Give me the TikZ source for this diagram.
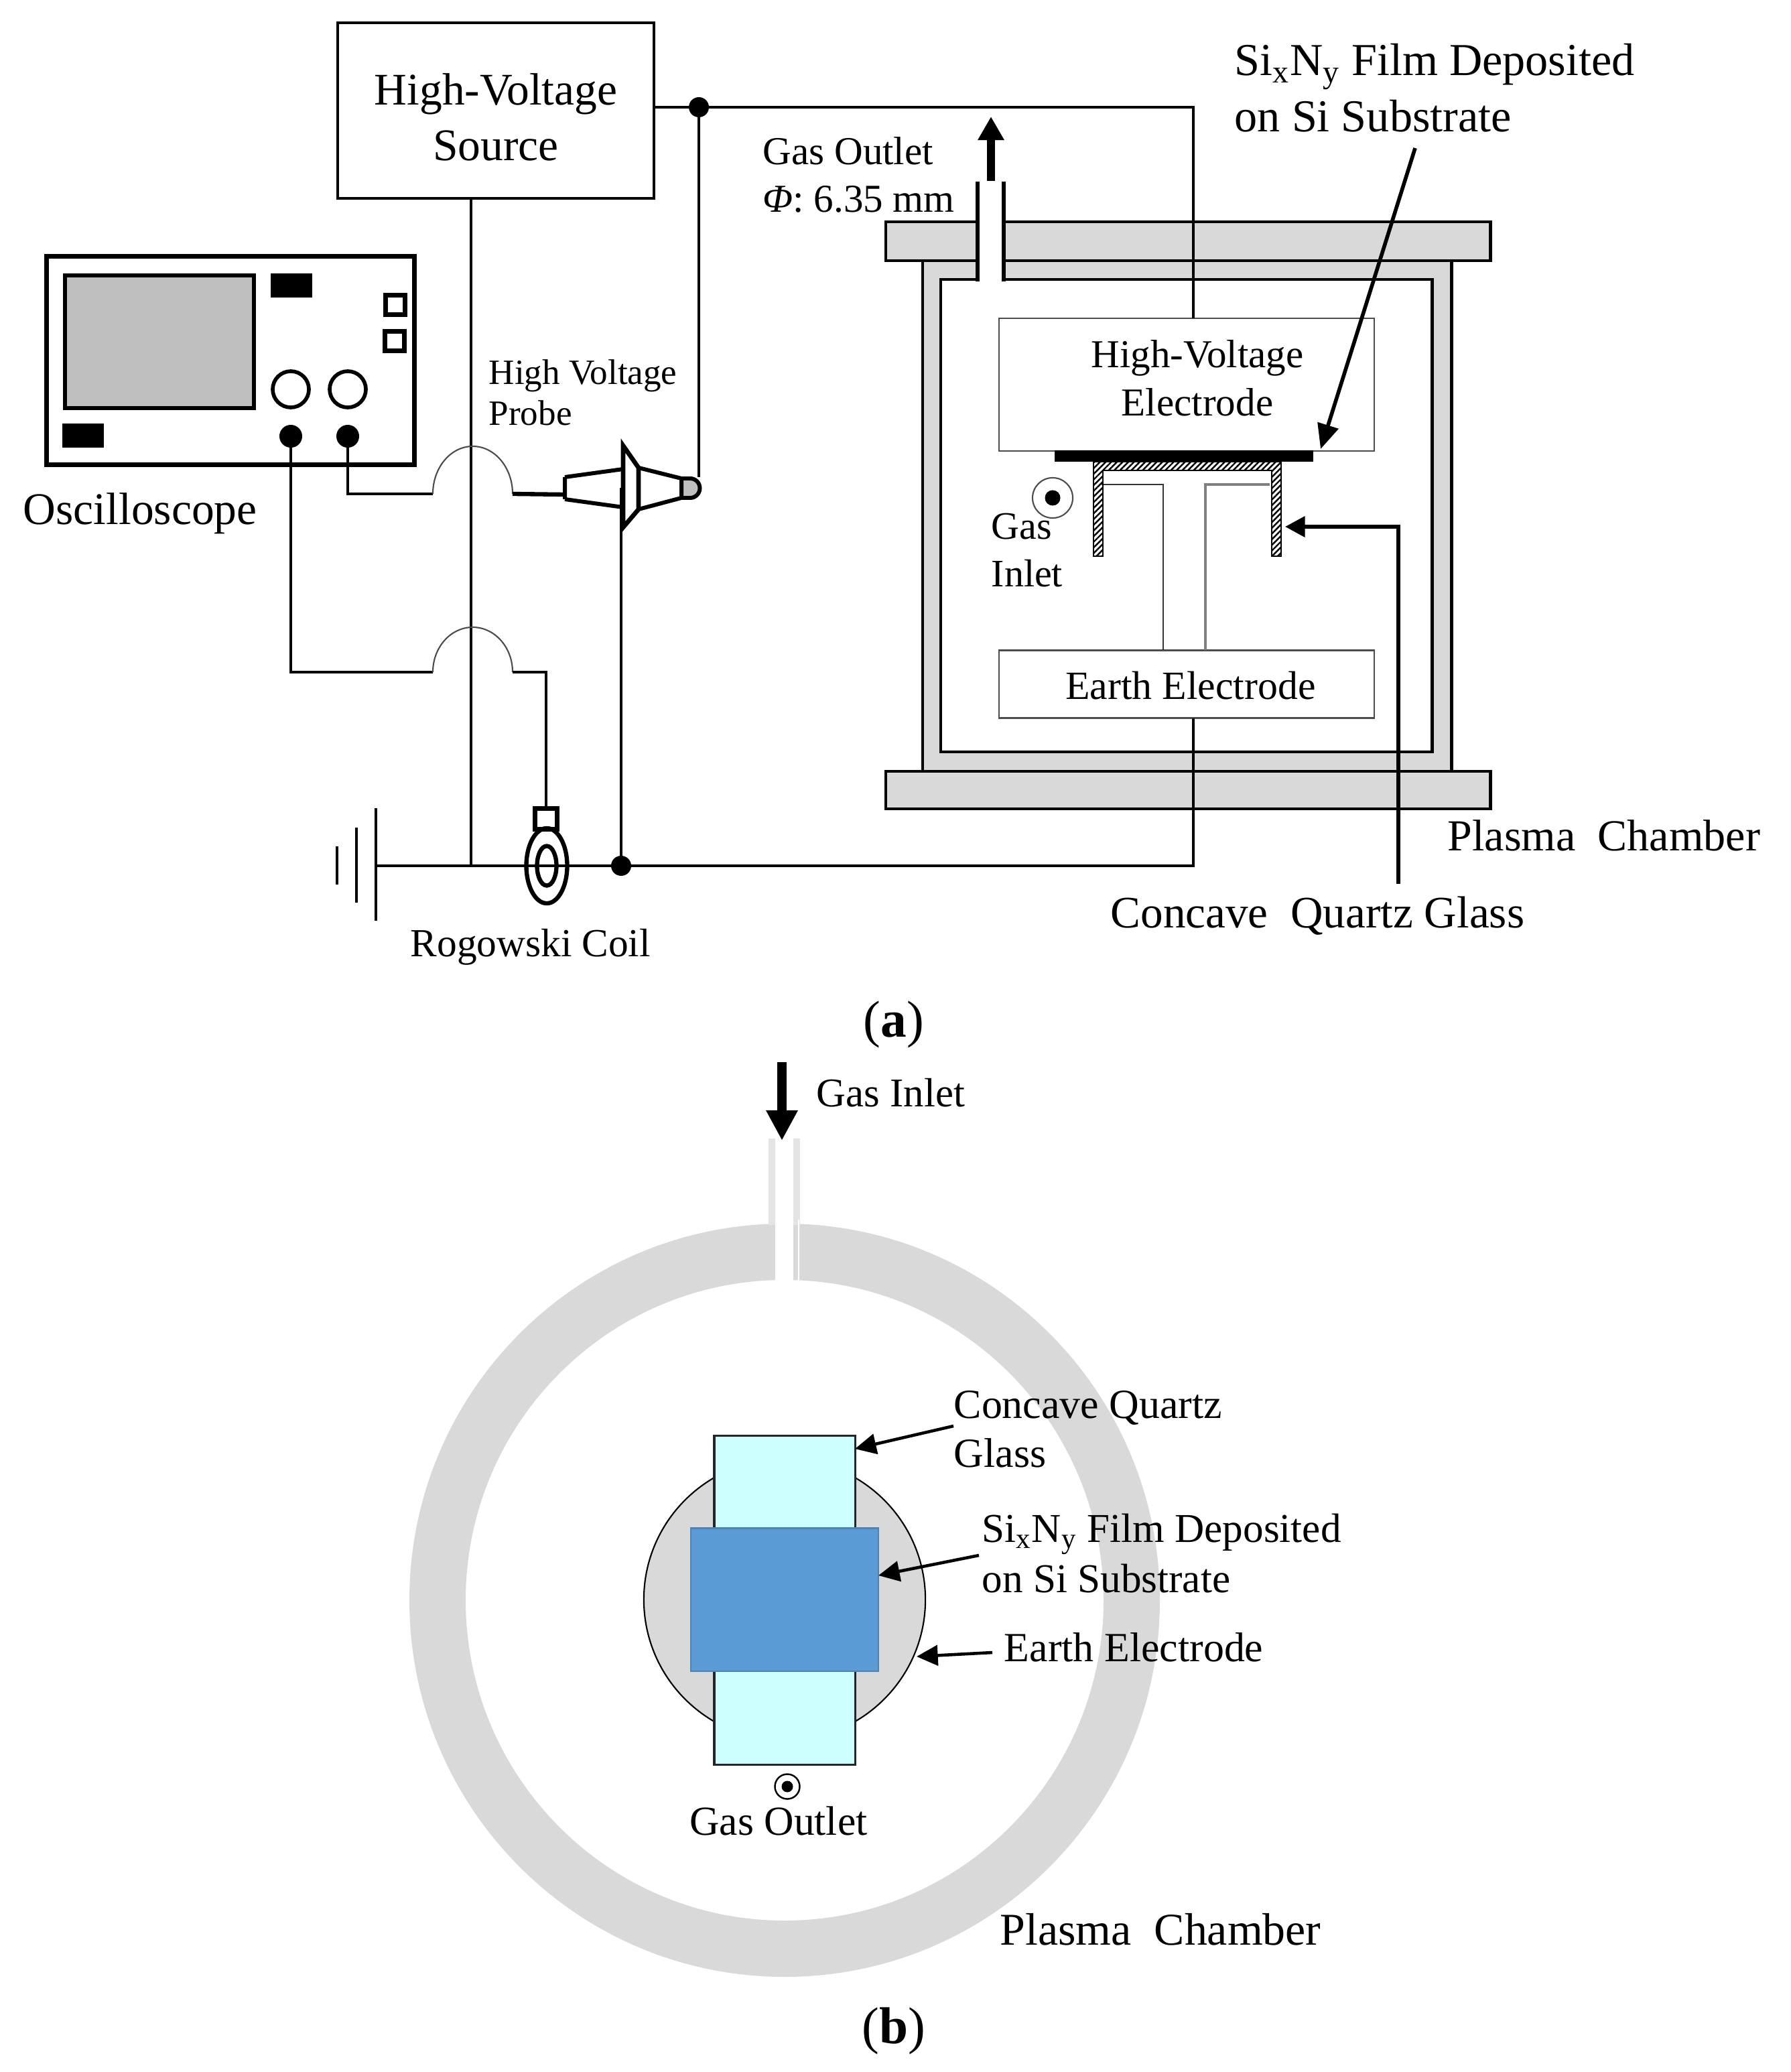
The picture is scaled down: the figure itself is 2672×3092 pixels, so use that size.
\documentclass[tikz,border=0pt]{standalone}
\usepackage{fontspec}
\setmainfont{Liberation Serif}
\usepackage{xcolor}
\usetikzlibrary{arrows.meta,patterns.meta,shapes.geometric,calc}
\definecolor{wallgray} {RGB} {217, 217, 217}
\definecolor{screengray} {RGB} {191, 191, 191}
\definecolor{quartz} {RGB} {204, 255, 255}
\definecolor{filmblue} {RGB} {91, 155, 213}
\definecolor{postgray} {RGB} {128, 128, 128}
\tikzstyle{rig}=[
  x=0.01cm, y=-0.01cm, >={Triangle[length=10.5pt,width=9pt]}
]
\tikzstyle{wire}=[
  line width=1.35pt
]
\tikzstyle{hop}=[
  line width=0.6pt, draw=black!70
]
\tikzstyle{pointer}=[
  line width=1.6pt, ->
]
\tikzstyle{pointersm}=[
  line width=1.3pt, -{Triangle[length=9pt,width=8.6pt]}
]
\tikzstyle{wirebox}=[
  draw, line width=1.3pt, inner sep=0pt, outer sep=0pt
]
\tikzstyle{thinbox}=[
  draw=black!70, line width=0.7pt, inner sep=0pt, outer sep=0pt
]
\tikzstyle{plate}=[
  draw, line width=1.4pt, fill=wallgray
]
\tikzstyle{dot}=[
  circle, fill=black, inner sep=0pt, outer sep=0pt, minimum size=3mm
]
\tikzstyle{knob}=[
  circle, draw, line width=1.6pt, inner sep=0pt, minimum size=5.4mm
]
\tikzstyle{sqbtn}=[
  draw, line width=1.8pt, inner sep=0pt, minimum size=2.9mm
]
\tikzstyle{blk}=[
  fill=black, inner sep=0pt, minimum width=6.2mm, minimum height=3.6mm
]
\tikzstyle{ring}=[
  ellipse, draw, inner sep=0pt, outer sep=0pt
]
\tikzstyle{lbl}=[
  inner sep=0pt, align=left, anchor=west
]
\newcommand{\lblbig}{\fontsize{18.8}{23.6}\selectfont}
\newcommand{\lblmid}{\fontsize{17.5}{21}\selectfont}
\newcommand{\lblpart}{\fontsize{22}{26}\selectfont}
\begin{document}
\begin{tikzpicture}[rig]
    \useasboundingbox (0,0) rectangle (2672,3092);
    \fill [white] (0,0) rectangle (2672,3092);

    % chamber body
    \draw [line width=1.4pt, fill=wallgray] (1377,389) rectangle (2166,1151);
    \draw [line width=1.4pt, fill=white] (1404,417) rectangle (2137,1122);
    \draw [plate] (1322,331) rectangle (2224,389);
    \draw [plate] (1322,1151) rectangle (2224,1207);
    \fill [white] (1459,325) rectangle (1498,420);
    \draw [wire, line width=1.5pt] (1459,271) -- (1459,420);
    \draw [wire, line width=1.5pt] (1498,271) -- (1498,420);
    \coordinate (outletbase) at (1479,270);
    \coordinate (outlettip) at (1479,174);
    \draw [line width=3.4pt, -{Triangle[length=10pt,width=10.6pt]}] (outletbase) -- (outlettip);

    % boxes
    \node (source) [wirebox, minimum width=47.2mm, minimum height=26.2mm] at (740,165) {};
    \node (sourcetext) [align=center, inner sep=0pt, font=\fontsize{19.2}{23.6}\selectfont] at (740,175) {High-Voltage\\Source};
    \node (hvelec) [thinbox, minimum width=56mm, minimum height=19.8mm] at (1771,574) {};
    \node (hvtext) [align=center, inner sep=0pt, font=\fontsize{16.8}{20.4}\selectfont] at (1787,564) {High-Voltage\\Electrode};
    \node (earth) [thinbox, minimum width=56mm, minimum height=10.1mm, fill=white] at (1771,1021) {};
    \node (earthtext) [inner sep=0pt, font=\fontsize{17}{21}\selectfont] at (1777,1023) {Earth Electrode};

    % post and quartz
    \coordinate (postL) at (1736,723);
    \coordinate (postR) at (1799,723);
    \draw [line width=0.7pt, draw=black!80] (1644,723) -- (postL) -- (postL |- earth.north);
    \draw [line width=1.1pt, draw=postgray] (1895,723) -- (postR) -- (postR |- earth.north);
    \fill [black] (1574,672) rectangle (1960,689);
    \draw [line width=0.7pt, pattern={Lines[angle=45,distance=1.7pt,line width=0.7pt]}]
        (1632,830) -- (1632,689) -- (1912,689) -- (1912,830) -- (1898,830) -- (1898,702) -- (1646,702) -- (1646,830) -- cycle;
    \node (inflow) [circle, draw=black!70, line width=0.6pt, minimum size=6mm, inner sep=0pt] at (1571,743) {};
    \node (inflowdot) [dot, minimum size=2.3mm] at (inflow) {};

    % scope
    \node (scope) [wirebox, line width=2pt, minimum width=54.8mm, minimum height=31mm] at (344,538) {};
    \node (screen) [draw, line width=1.7pt, fill=screengray, inner sep=0pt, minimum width=28.2mm, minimum height=19.8mm] at (238,510) {};
    \node (blka) [blk] at (435,426) {};
    \node (blkb) [blk] at (124,650) {};
    \node (btna) [sqbtn] at (590,455) {};
    \node (btnb) [sqbtn] at (589,509) {};
    \node (knoba) [knob] at (434,581) {};
    \node (knobb) [knob] at (519,581) {};
    \node (jacka) [dot, minimum size=3.4mm] at (434,651) {};
    \node (jackb) [dot, minimum size=3.4mm] at (519,651) {};

    % coil and junctions
    \node (coilout) [ring, line width=1.8pt, minimum width=6.1mm, minimum height=11.2mm] at (816,1292) {};
    \node (coilin) [ring, line width=1.8pt, minimum width=2.9mm, minimum height=5.9mm] at (816,1292) {};
    \node (coilcap) [draw, line width=1.8pt, inner sep=0pt, minimum width=3.3mm, minimum height=3.1mm] at (815,1222) {};
    \node (topdot) [dot] at (1043,160) {};
    \node (gnddot) [dot] at (927,1292) {};
    \coordinate (gnd) at (561,1292);
    \coordinate (hvdrop) at (1781,160);
    \coordinate (srcdrop) at (703,1292);
    \coordinate (earthdrop) at (1781,1292);

    % wiring
    \draw [wire] (source.east |- topdot) -- (topdot.center) -- (hvdrop) -- (hvdrop |- hvelec.north);
    \draw [wire] (source.south -| srcdrop) -- (srcdrop);
    \draw [wire] (gnd) -- (earthdrop) -- (earthdrop |- earth.south);
    \draw [line width=1.3pt] (561,1206) -- (561,1374);
    \draw [line width=1.3pt] (532,1235) -- (532,1347);
    \draw [line width=1.1pt] (503,1263) -- (503,1320);

    % probe
    \coordinate (probeL) at (843,738);
    \coordinate (probeR) at (1043,712);
    \coordinate (probeG) at (927,728);
    \draw [line width=1.7pt] (843,712) -- (930,700) (843,745) -- (930,757) (843,712) -- (843,745);
    \draw [line width=1.9pt, line join=miter] (930,787) -- (930,665) -- (953,698) -- (953,760) -- cycle;
    \draw [line width=1.7pt] (953,698) -- (1017,714) (953,760) -- (1017,743);
    \draw [line width=1.7pt, fill=screengray] (1017,714) -- (1030,714) arc [start angle=270, end angle=450, x radius=14.5, y radius=14.5] -- (1017,743) -- cycle;
    \draw [wire] (topdot.center) -- (probeR);
    \draw [wire] (probeG) -- (gnddot.center);

    % scope leads with hops over the source line
    \coordinate (hopa) at (646,737);
    \coordinate (hopb) at (646,1003);
    \draw [wire] (jackb.center) |- (hopa);
    \draw [hop] (hopa) arc [start angle=180, end angle=360, x radius=59.5, y radius=71] coordinate (hopaend);
    \draw [line width=1.8pt] (hopaend) -- (probeL);
    \draw [wire] (jacka.center) |- (hopb);
    \draw [hop] (hopb) arc [start angle=180, end angle=360, x radius=59.5, y radius=67] coordinate (hopbend);
    \draw [wire] (hopbend) -| (coilcap.north);

    % pointers, top picture
    \coordinate (filmtail) at (2112,221);
    \coordinate (filmtip) at (1971,670);
    \draw [pointer] (filmtail) -- (filmtip);
    \coordinate (quartztail) at (2087,1319);
    \coordinate (quartztip) at (1918,786);
    \draw [pointer, -{Triangle[length=8.4pt,width=8.6pt]}] (quartztail) |- (quartztip);

    % labels, top picture
    \node (outletlbl) [lbl, font=\fontsize{16.8}{20.4}\selectfont] at (1138,261) {Gas Outlet\\{\itshape Φ}: 6.35 mm};
    \node (filmlbl) [lbl, font=\fontsize{19.4}{24}\selectfont] at (1842,131) {Si\textsubscript{x}N\textsubscript{y} Film Deposited\\on Si Substrate};
    \node (probelbl) [lbl, font=\fontsize{15.1}{17.4}\selectfont] at (729,586) {High Voltage\\Probe};
    \node (scopelbl) [lbl, font=\fontsize{19.2}{23.6}\selectfont] at (34,766) {Oscilloscope};
    \node (inletlbl) [lbl, font=\fontsize{16.5}{20.4}\selectfont] at (1479,821) {Gas\\Inlet};
    \node (coillbl) [lbl, font=\fontsize{16.9}{20}\selectfont] at (612,1413) {Rogowski Coil};
    \node (chamberlbl) [lbl, font=\lblbig] at (2160,1247) {Plasma~~Chamber};
    \node (quartzlbl) [lbl, font=\fontsize{19.1}{23.6}\selectfont] at (1657,1367) {Concave~~Quartz Glass};
    \node (parta) [inner sep=0pt, font=\lblpart] at (1334,1529) {(\textbf{a})};

    % ring, bottom picture
    \draw [fill=wallgray, draw=none, even odd rule] (1171,2388) ellipse [x radius=560, y radius=562] (1171,2388) ellipse [x radius=476, y radius=478];
    \fill [white] (1157,1820) rectangle (1184,1916);
    \fill [wallgray!70] (1147,1699) rectangle (1157,1828);
    \fill [wallgray!70] (1184,1699) rectangle (1194,1828);
    \fill [white] (1191,1820) rectangle (1193,1916);
    \coordinate (inlettail) at (1167,1585);
    \coordinate (inlettip) at (1167,1702);
    \draw [line width=4.2pt, -{Triangle[length=12.8pt,width=12.6pt]}] (inlettail) -- (inlettip);

    \node (earthdisc) [circle, draw, line width=0.6pt, fill=wallgray, inner sep=0pt, minimum size=42mm] at (1171,2387) {};
    \node (glass) [draw=black!85, line width=0.9pt, fill=quartz, inner sep=0pt, outer sep=0pt, minimum width=21mm, minimum height=49mm] at (1171,2388) {};
    \node (wafer) [draw=filmblue!85!black, line width=0.6pt, fill=filmblue, inner sep=0pt, outer sep=0pt, minimum width=28mm, minimum height=21.3mm] at (1171,2387) {};
    \node (outflow) [circle, draw, line width=0.7pt, minimum size=3.7mm, inner sep=0pt] at (1175,2666) {};
    \node (outflowdot) [dot, minimum size=1.7mm] at (outflow) {};

    \coordinate (glasstail) at (1423,2128);
    \coordinate (glasstip) at (1276,2162);
    \coordinate (wafertail) at (1461,2321);
    \coordinate (wafertip) at (1311,2351);
    \coordinate (disctail) at (1481,2466);
    \coordinate (disctip) at (1368,2472);
    \draw [pointersm] (glasstail) -- (glasstip);
    \draw [pointersm] (wafertail) -- (wafertip);
    \draw [pointersm] (disctail) -- (disctip);

    % labels, bottom picture
    \node (inletlblb) [lbl, font=\fontsize{17.3}{21}\selectfont] at (1218,1631) {Gas Inlet};
    \node (glasslbl) [lbl, font=\fontsize{17.6}{20.6}\selectfont] at (1423,2133) {Concave Quartz\\Glass};
    \node (waferlbl) [lbl, font=\fontsize{17.4}{21.2}\selectfont] at (1465,2318) {Si\textsubscript{x}N\textsubscript{y} Film Deposited\\on Si Substrate};
    \node (disclbl) [lbl, font=\fontsize{17.6}{21}\selectfont] at (1498,2458) {Earth Electrode};
    \node (outletlblb) [inner sep=0pt, font=\lblmid] at (1162,2717) {Gas Outlet};
    \node (chamberlblb) [lbl, font=\fontsize{19.3}{24}\selectfont] at (1492,2879) {Plasma~~Chamber};
    \node (partb) [inner sep=0pt, font=\lblpart] at (1334,3031) {(\textbf{b})};
\end{tikzpicture}
\end{document}
